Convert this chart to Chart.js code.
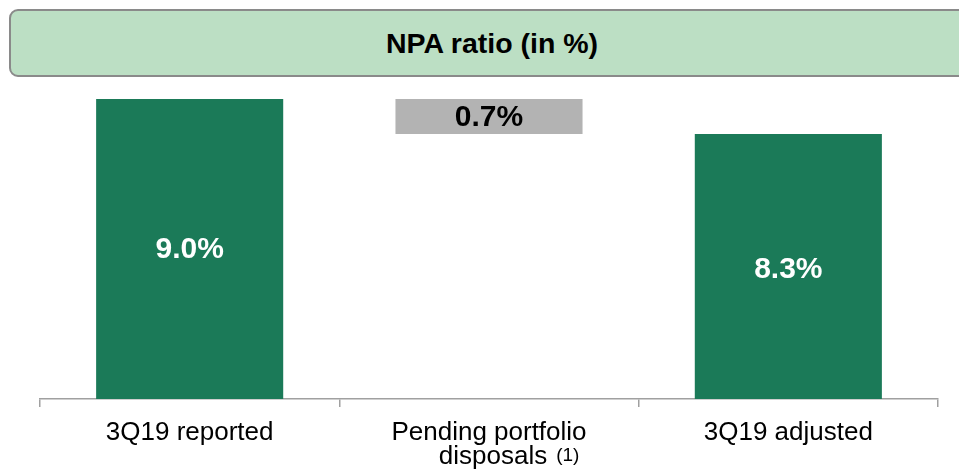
<!DOCTYPE html>
<html>
<head>
<meta charset="utf-8">
<script src="https://cdn.jsdelivr.net/npm/chart.js@4/dist/chart.umd.min.js"></script>
<style>
  body { margin: 0; background: #fff; overflow: hidden; }
  #wrap { position: relative; width: 959px; height: 472px; }
  #title {
    position: absolute; left: 9px; top: 9px; width: 962px; height: 64px;
    background: #bcdfc4; border: 2px solid #8a8a8a; border-radius: 9px;
    font: bold 28.5px Arial, "Liberation Sans", sans-serif; color: #000;
    display: flex; align-items: center; justify-content: center;
  }
</style>
</head>
<body>
<div id="wrap">
  <canvas id="chart" width="959" height="472"></canvas>
  <div id="title">NPA ratio (in %)</div>
</div>
<script>
let categories = ["3Q19 reported", "Pending portfolio", "3Q19 adjusted"];
let secondLines = ["", "disposals", ""];
let footnotes = ["", "(1)", ""];
let reported = 9.0;
let disposals = 0.7;
let adjusted = 8.3;
let valueLabels = ["9.0%", "0.7%", "8.3%"];
let barColors = ["#1b7a58", "#b3b3b3", "#1b7a58"];
let labelColors = ["#ffffff", "#000000", "#ffffff"];

let FONT = 'Arial, "Liberation Sans", sans-serif';

// bar values: reported, floating drop, adjusted
let barData = [reported, [reported - disposals, reported], adjusted];

let labelPlugin = {
  id: "labels",
  afterDatasetsDraw(chart) {
    let ctx = chart.ctx;
    let meta = chart.getDatasetMeta(0);
    let bottom = chart.chartArea.bottom;
    ctx.save();
    ctx.textAlign = "center";
    ctx.textBaseline = "middle";
    ctx.font = "bold 30px " + FONT;
    meta.data.forEach((bar, i) => {
      // visible part of the bar only (base may sit below the axis)
      let y = (bar.y + Math.min(bar.base, bottom)) / 2;
      ctx.fillStyle = labelColors[i];
      ctx.fillText(valueLabels[i], bar.x, y + (i == 2 ? 3 : 1));
    });
    ctx.restore();
  },
  afterDraw(chart) {
    let ctx = chart.ctx;
    let xs = chart.scales.x;
    ctx.save();
    ctx.fillStyle = "#000";
    ctx.textBaseline = "alphabetic";
    categories.forEach((c, i) => {
      let x = xs.getPixelForValue(i);
      ctx.textAlign = "center";
      ctx.font = "26px " + FONT;
      ctx.fillText(c, x, 440);
      if (secondLines[i]) {
        ctx.fillText(secondLines[i], x + 4, 464);
        let w = ctx.measureText(secondLines[i]).width;
        ctx.font = "19px " + FONT;
        ctx.textAlign = "left";
        ctx.fillText(footnotes[i], x + 4 + w / 2 + 9, 461);
      }
    });
    ctx.restore();
  }
};

new Chart(document.getElementById("chart"), {
  type: "bar",
  data: {
    labels: categories,
    datasets: [{
      data: barData,
      backgroundColor: barColors,
      barPercentage: 0.625,
      categoryPercentage: 1
    }]
  },
  options: {
    responsive: false,
    animation: false,
    layout: { padding: { left: 40, right: 21, top: 99, bottom: 65 } },
    plugins: { legend: { display: false }, tooltip: { enabled: false } },
    scales: {
      x: {
        grid: {
          offset: true,
          drawOnChartArea: false,
          drawTicks: true,
          tickLength: 8,
          color: "#a0a0a0",
          lineWidth: 1.5
        },
        border: { color: "#a0a0a0", width: 1.5 },
        ticks: { display: false }
      },
      y: {
        display: false,
        min: 3,
        max: 9
      }
    }
  },
  plugins: [labelPlugin]
});
</script>
</body>
</html>
